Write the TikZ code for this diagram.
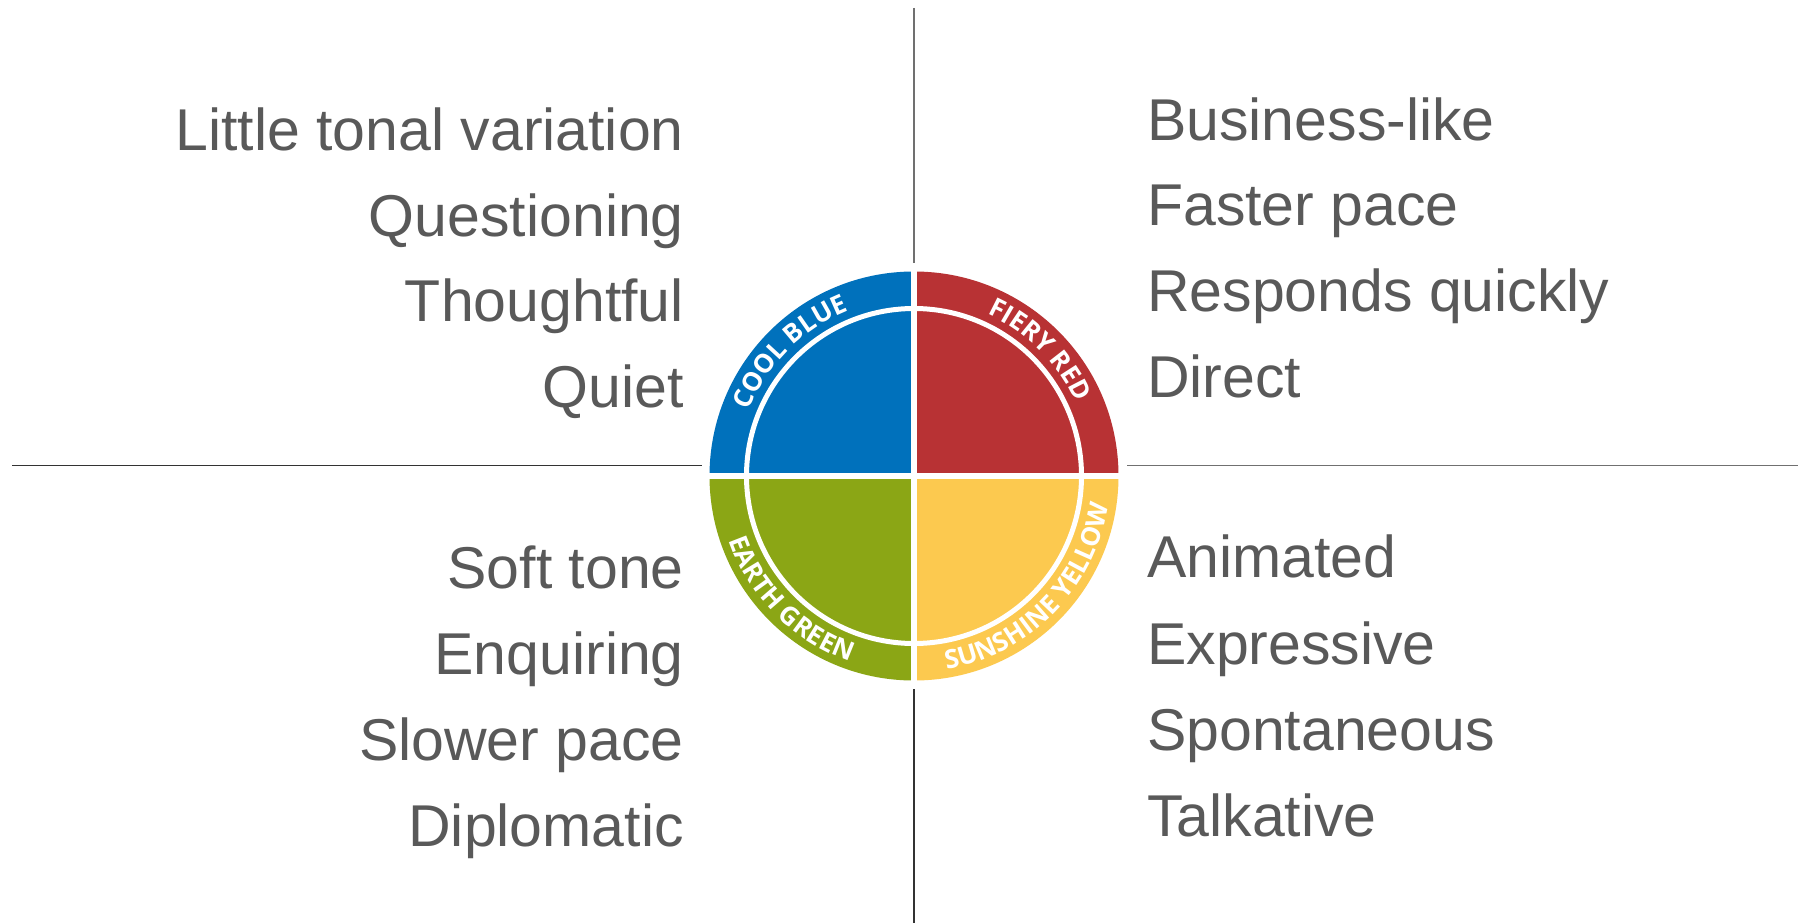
\documentclass[tikz,border=0pt]{standalone}
\usepackage{fontspec}
\setmainfont{Liberation Sans}
\newfontfamily\labelfont{Open Sans}
\newcommand\ringfont{\labelfont\bfseries\fontsize{26}{26}\selectfont}
\usetikzlibrary{decorations.text}
\definecolor{txtgray}{HTML}{595959}
\definecolor{coolblue}{RGB}{0,113,188}
\definecolor{fieryred}{RGB}{184,50,52}
\definecolor{earthgreen}{RGB}{139,166,21}
\definecolor{sunyellow}{RGB}{252,201,79}
\definecolor{darkline}{HTML}{333333}
\definecolor{lightline}{HTML}{707070}
\begin{document}
\begin{tikzpicture}[x=1pt,y=1pt,
  item/.style={font=\fontsize{59}{70}\selectfont, text=txtgray, inner sep=0pt},
  leftitem/.style={item, anchor=base east},
  rightitem/.style={item, anchor=base west},
  axis/.style={line width=1.6pt},
  ringlabel/.style={decorate, decoration={text along path, text color=white, text align=center, text={|\ringfont|#1}}}
]
\useasboundingbox (0,0) rectangle (1798,-923);
\fill[white] (0,0) rectangle (1798,-923);

% axes
\coordinate (hl1) at (12,-465.5);
\coordinate (hl2) at (702,-465.5);
\coordinate (hr1) at (1127,-465.5);
\coordinate (hr2) at (1798,-465.5);
\coordinate (vt1) at (914,-8);
\coordinate (vt2) at (914,-263);
\coordinate (vb1) at (914,-689);
\coordinate (vb2) at (914,-923);
\draw[axis, darkline] (hl1) -- (hl2);
\draw[axis, lightline] (hr1) -- (hr2);
\draw[axis, lightline] (vt1) -- (vt2);
\draw[axis, darkline] (vb1) -- (vb2);

% wheel
\coordinate (C) at (914,-476);
\fill[coolblue] (C) -- ++(90:204.5) arc[start angle=90, end angle=180, radius=204.5] -- cycle;
\fill[fieryred] (C) -- ++(0:204.5) arc[start angle=0, end angle=90, radius=204.5] -- cycle;
\fill[earthgreen] (C) -- ++(180:204.5) arc[start angle=180, end angle=270, radius=204.5] -- cycle;
\fill[sunyellow] (C) -- ++(270:204.5) arc[start angle=270, end angle=360, radius=204.5] -- cycle;
\draw[white, line width=5pt] (C) circle[radius=167.5];
\draw[white, line width=5.5pt] ([xshift=-206pt]C) -- ([xshift=206pt]C);
\draw[white, line width=5.5pt] ([yshift=206pt]C) -- ([yshift=-206pt]C);

\path[ringlabel={COOL BLUE}] (C) ++(170:177.7) arc[start angle=170, end angle=100, radius=177.7];
\path[ringlabel={FIERY RED}] (C) ++(80:177.7) arc[start angle=80, end angle=10, radius=177.7];
\path[ringlabel={EARTH GREEN}] (C) ++(185:196.3) arc[start angle=185, end angle=265, radius=196.3];
\path[ringlabel={SUNSHINE YELLOW}] (C) ++(270:196.3) arc[start angle=270, end angle=361, radius=196.3];

% left upper
\node[leftitem] (lu1) at (684,-150.7) {Little tonal variation};
\node[leftitem] (lu2) at (684,-236) {Questioning};
\node[leftitem] (lu3) at (684,-321.5) {Thoughtful};
\node[leftitem] (lu4) at (684,-407) {Quiet};
% right upper
\node[rightitem] (ru1) at (1147,-140) {Business-like};
\node[rightitem] (ru2) at (1147,-225.7) {Faster pace};
\node[rightitem] (ru3) at (1147,-311.4) {Responds quickly};
\node[rightitem] (ru4) at (1147,-397) {Direct};
% left lower
\node[leftitem] (ll1) at (684,-588.3) {Soft tone};
\node[leftitem] (ll2) at (684,-674.3) {Enquiring};
\node[leftitem] (ll3) at (684,-760.7) {Slower pace};
\node[leftitem] (ll4) at (684,-846.7) {Diplomatic};
% right lower
\node[rightitem] (rl1) at (1147,-577.3) {Animated};
\node[rightitem] (rl2) at (1147,-664) {Expressive};
\node[rightitem] (rl3) at (1147,-750) {Spontaneous};
\node[rightitem] (rl4) at (1147,-836) {Talkative};
\end{tikzpicture}
\end{document}
